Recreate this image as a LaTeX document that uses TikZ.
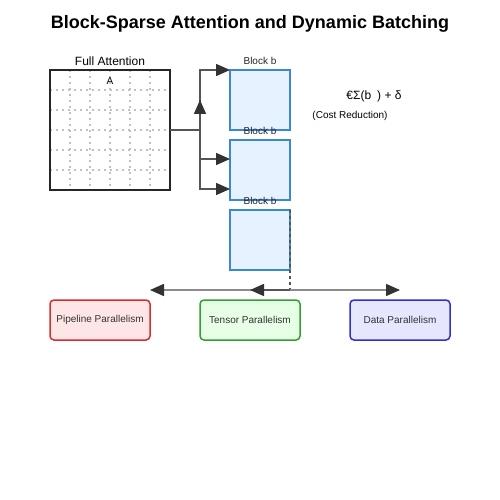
\documentclass[tikz,border=0pt]{standalone}
\usepackage{fontspec}
\setmainfont{Liberation Sans}
\usetikzlibrary{arrows.meta,calc}
\definecolor{blkfill}{HTML}{E6F2FF}
\definecolor{blkdraw}{HTML}{3A87D4}
\definecolor{pfill}{HTML}{FFE6E6}
\definecolor{pdraw}{HTML}{D03030}
\definecolor{tfill}{HTML}{E6FFE6}
\definecolor{tdraw}{HTML}{30A030}
\definecolor{dfill}{HTML}{E6E6FF}
\definecolor{ddraw}{HTML}{3030CC}
\definecolor{conn}{HTML}{555555}
\definecolor{tipc}{HTML}{333333}
\definecolor{gridc}{HTML}{C0C0C0}
\tikzset{
  every node/.style={outer sep=0pt},
  blockbox/.style={draw=blkdraw, fill=blkfill, line width=1.5pt, minimum width=60pt, minimum height=60pt, inner sep=0pt, anchor=north west},
  parbox/.style={rounded corners=4pt, line width=1.5pt, minimum width=100pt, minimum height=40pt, inner sep=0pt, anchor=north west, font=\fontsize{10}{12}\selectfont, text=black!80},
  conline/.style={draw=conn, line width=1.5pt},
  bigtip/.tip={Triangle[length=14pt, width=12pt, color=tipc]},
  arr/.style={conline, -bigtip},
  lbl/.style={font=\fontsize{10}{12}\selectfont, inner sep=0pt},
  gridline/.style={gridc, line width=1.5pt, dash pattern=on 2pt off 4pt},
}
\begin{document}
\begin{tikzpicture}[x=1pt, y=-1pt]
\useasboundingbox (0,0) rectangle (500,500);
\fill[white] (0,0) rectangle (500,500);
% title
\node[font=\bfseries\fontsize{18}{22}\selectfont] (title) at (250,24) {Block-Sparse Attention and Dynamic Batching};
% full attention matrix
\node[font=\fontsize{12}{14}\selectfont, inner sep=0pt] (fatitle) at (110,61) {Full Attention};
\foreach \i in {1,...,5} {
  \draw[gridline] (50+20*\i,70) -- (50+20*\i,190);
  \draw[gridline] (50,70+20*\i) -- (170,70+20*\i);
}
\node[draw=black!85, line width=1.5pt, minimum width=120pt, minimum height=120pt, inner sep=0pt, anchor=north west] (full) at (50,70) {};
\node[lbl] (alabel) at (110,81) {A};
% blocks
\node[blockbox] (b1) at (230,70) {};
\node[blockbox] (b2) at (230,140) {};
\node[blockbox] (b3) at (230,210) {};
\node[lbl, text=black!85] (b1l) at (260,61) {Block b};
\node[lbl, text=black!85] (b2l) at (260,131) {Block b};
\node[lbl, text=black!85] (b3l) at (260,201) {Block b};
% connectors
\coordinate (j) at (200,130);
\coordinate (jup) at (200,100);
\coordinate (t2) at ($(b2.north west)+(0,19)$);
\coordinate (t3) at ($(b2.north west)+(0,49)$);
\draw[conline] (full.east) -- (j);
\draw[arr] (j) |- (b1.north west);
\draw[arr] (j) -- (jup);
\draw[arr] (j) |- (t2);
\draw[arr] (j) |- (t3);
% formula
\node[font=\fontsize{12}{14}\selectfont, inner sep=0pt] (formula) at (374,96) {€Σ(b\hspace{6pt}) + δ};
\node[lbl] (cost) at (350,116) {(Cost Reduction)};
% parallelism boxes
\node[parbox, draw=pdraw, fill=pfill] (pipe) at (50,300) {Pipeline Parallelism};
\node[parbox, draw=tdraw, fill=tfill] (tens) at (200,300) {Tensor Parallelism};
\node[parbox, draw=ddraw, fill=dfill] (data) at (350,300) {Data Parallelism};
% bottom connectors
\coordinate (bl) at (150,290);
\coordinate (br) at (400,290);
\coordinate (bm) at (290,290);
\coordinate (bt) at (250,290);
\draw[conn, line width=1.5pt, dash pattern=on 3pt off 3pt] (b3.north east) -- (bm);
\draw[draw=black!45, line width=1.5pt, bigtip-bigtip] (bl) -- (br);
\draw[arr] (bm) -- (bt);
\end{tikzpicture}
\end{document}
